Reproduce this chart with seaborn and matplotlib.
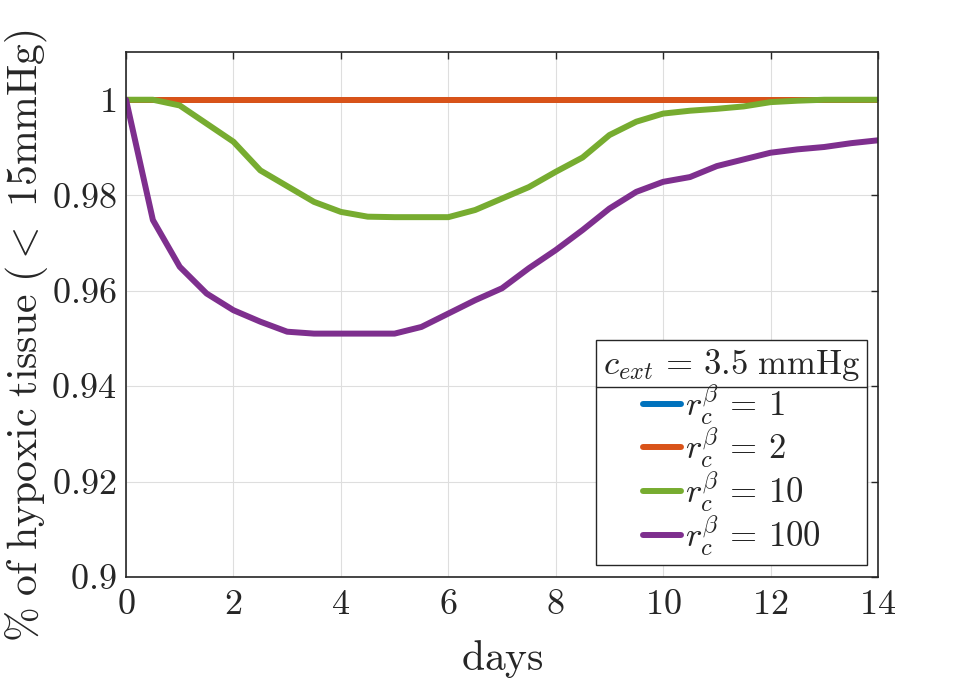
import seaborn as sns
import matplotlib.pyplot as plt
import matplotlib.ticker as mticker
from matplotlib.lines import Line2D
import pandas as pd
import numpy as np

# days sampled every half day
days = [0, 0.5, 1, 1.5, 2, 2.5, 3, 3.5, 4, 4.5, 5, 5.5, 6, 6.5, 7,
        7.5, 8, 8.5, 9, 9.5, 10, 10.5, 11, 11.5, 12, 12.5, 13, 13.5, 14]

rc1 = [1.0] * len(days)
rc2 = [1.0] * len(days)
rc10 = [1.0, 1.0, 0.9988, 0.9950, 0.9912, 0.9852, 0.9819, 0.9786, 0.9765, 0.9755,
        0.9754, 0.9754, 0.9754, 0.9769, 0.9793, 0.9817, 0.9849, 0.9879, 0.9926, 0.9954,
        0.9971, 0.9977, 0.9981, 0.9986, 0.9995, 0.9998, 1.0, 1.0, 1.0]
rc100 = [1.0, 0.9748, 0.9650, 0.9594, 0.9559, 0.9535, 0.9514, 0.9510, 0.9510, 0.9510,
         0.9510, 0.9524, 0.9552, 0.9580, 0.9605, 0.9647, 0.9685, 0.9727, 0.9772, 0.9807,
         0.9828, 0.9838, 0.9861, 0.9875, 0.9889, 0.9896, 0.9901, 0.9909, 0.9915]

labels = [r'$r_c^\beta\,=\,1$', r'$r_c^\beta\,=\,2$', r'$r_c^\beta\,=\,10$', r'$r_c^\beta\,=\,100$']
colors = ['#0072BD', '#D95319', '#77AC30', '#7E2F8E']

data = pd.DataFrame({
    'days': days * 4,
    'value': rc1 + rc2 + rc10 + rc100,
    'series': sum([[lab] * len(days) for lab in labels], []),
})

sns.set_style("white")
plt.rcParams['mathtext.fontset'] = 'cm'
plt.rcParams['font.family'] = ['serif']
plt.rcParams['font.serif'] = ['cmr10', 'DejaVu Serif']
plt.rcParams['axes.formatter.use_mathtext'] = True

fig = plt.figure(figsize=(9.71, 6.88), dpi=100)
ax = fig.add_axes([0.1298, 0.1613, 0.7744, 0.7631])

sns.lineplot(data=data, x='days', y='value', hue='series', hue_order=labels,
             palette=colors, linewidth=4.3, ax=ax, legend=False, sort=False)

ax.set_xlim(0, 14)
ax.set_ylim(0.9, 1.01)
ax.set_xticks(np.arange(0, 15, 2))
ax.set_yticks([0.9, 0.92, 0.94, 0.96, 0.98, 1.0])
ax.yaxis.set_major_formatter(mticker.FuncFormatter(lambda v, p: '$%g$' % v))
ax.xaxis.set_major_formatter(mticker.FuncFormatter(lambda v, p: '$%g$' % v))
ax.tick_params(axis='both', which='both', direction='in', length=5, width=1,
               labelsize=26, top=True, right=True, colors='#262626')
ax.tick_params(axis='x', pad=9)
ax.tick_params(axis='y', pad=7)
ax.grid(True, color='#dedede', linewidth=0.8)
for sp in ax.spines.values():
    sp.set_color('#262626')
    sp.set_linewidth(1.2)

ax.set_xlabel(r'$\mathrm{days}$', fontsize=30, color='#262626', labelpad=12)
ax.set_ylabel('')
fig.text(27 / 971, 1 - 336 / 688, r'$\%\ \mathrm{of\ hypoxic\ tissue\ (<\ 15mmHg)}$',
         fontsize=30, color='#262626', rotation=90, ha='center', va='center')

handles = [Line2D([], [], color=c, linewidth=4.3) for c in colors]
leg = ax.legend(handles, labels, title=r'$c_{ext}\,=\,3.5\ \mathrm{mmHg}$',
                loc='lower right', bbox_to_anchor=(0.986, 0.023), borderaxespad=0,
                fontsize=25, title_fontsize=25, handlelength=1.1, handletextpad=0.1,
                labelspacing=0.02, fancybox=False, framealpha=1, edgecolor='#262626',
                borderpad=0.2)
leg.get_frame().set_linewidth(1.0)

# separator line under the legend title
fig.canvas.draw()
frame = leg.get_frame().get_window_extent()
tbox = leg.get_title().get_window_extent()
inv = fig.transFigure.inverted()
ysep = tbox.y0 - 4
p0 = inv.transform((frame.x0, ysep))
p1 = inv.transform((frame.x1, ysep))
fig.add_artist(Line2D([p0[0], p1[0]], [p0[1], p1[1]], color='#262626', linewidth=1.0))

plt.savefig('out.png', dpi=100)
